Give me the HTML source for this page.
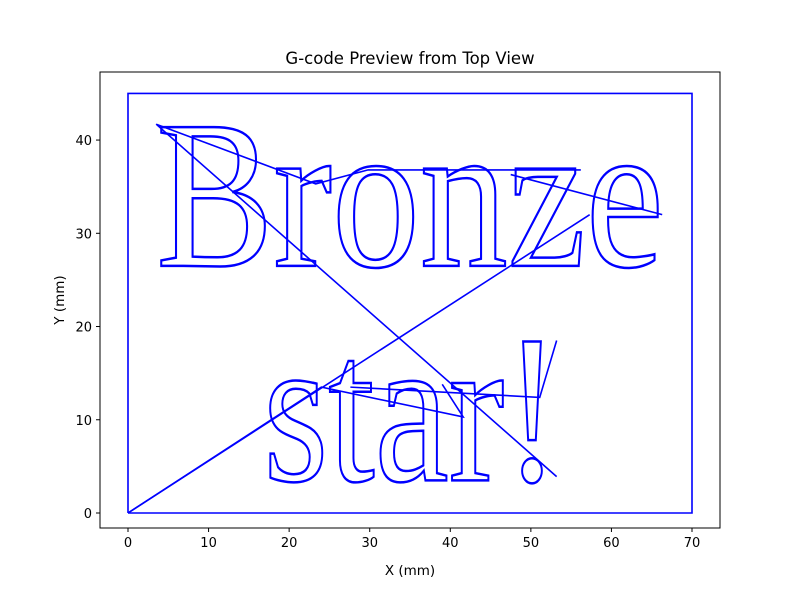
<!DOCTYPE html>
<html><head><meta charset="utf-8"><style>
body{margin:0;background:#fff}
text{font-family:"DejaVu Sans","Liberation Sans",sans-serif}
</style></head><body>
<svg id="chart" width="800" height="600" xmlns="http://www.w3.org/2000/svg">
<rect width="800" height="600" fill="#fff"/>
<text x="410" y="64" font-size="16.5" text-anchor="middle">G-code Preview from Top View</text>
<g id="plot"></g>
<g id="axes"></g>
<text x="410" y="575" font-size="13.5" text-anchor="middle">X (mm)</text>
<text x="64" y="300" font-size="13.5" text-anchor="middle" transform="rotate(-90 64 300)">Y (mm)</text>
</svg>
<script>
const xTicks=[0,10,20,30,40,50,60,70];
const yTicks=[0,10,20,30,40];
const borderX=[0,70,70,0,0];
const borderY=[0,0,45,45,0];
const travelX=[0,57.3];
const travelY=[0,32];
const travel1X=[56.2,29.8,23.3,3.5,53.2];
const travel1Y=[36.8,36.8,35.3,41.7,3.9];
const travel2X=[0,24,41.6,39,41.6];
const travel2Y=[0,13.5,10.3,13.8,10.3];
const travel3X=[27.6,51.1,53.2];
const travel3Y=[13.5,12.4,18.5];
const travel4X=[47.5,66.3];
const travel4Y=[36.3,32];
const X0=100,X1=720,Y0=72,Y1=528,xmin=-3.475,xmax=73.475,ymin=-1.61,ymax=47.3;
const sx=v=>X0+(v-xmin)/(xmax-xmin)*(X1-X0);
const sy=v=>Y1-(v-ymin)/(ymax-ymin)*(Y1-Y0);
const NS="http://www.w3.org/2000/svg";
const plot=document.getElementById('plot'),axes=document.getElementById('axes');
function poly(xs,ys,name){
  const p=document.createElementNS(NS,'polyline');
  p.setAttribute('points',xs.map((x,i)=>sx(x)+','+sy(ys[i])).join(' '));
  p.setAttribute('fill','none');p.setAttribute('stroke','#0000ff');p.setAttribute('stroke-width','1.6');
  
  
  plot.appendChild(p);
}
poly(borderX,borderY,'border-path');
poly(travelX,travelY,'travel-path');
poly(travel1X,travel1Y,'travel-path-1');
poly(travel2X,travel2Y,'travel-path-2');
poly(travel3X,travel3Y,'travel-path-3');
poly(travel4X,travel4Y,'travel-path-4');
function word(str,x0,x1,base,name){
  const t=document.createElementNS(NS,'text');
  t.setAttribute('x',sx(x0));t.setAttribute('y',sy(base));
  t.setAttribute('textLength',sx(x1)-sx(x0));t.setAttribute('lengthAdjust','spacingAndGlyphs');
  t.setAttribute('font-size','212');t.setAttribute('fill','none');t.setAttribute('stroke','#0000ff');t.setAttribute('stroke-width','2.5');
  t.style.fontFamily='"Liberation Serif",serif';
  t.textContent=str;
  
  
  plot.appendChild(t);
}
word('Bronze',3.5,66.5,26.5,'bronze-toolpath');
word('star!',16.8,53.6,3.5,'star-toolpath');
const fr=document.createElementNS(NS,'rect');
fr.setAttribute('x',X0);fr.setAttribute('y',Y0);fr.setAttribute('width',X1-X0);fr.setAttribute('height',Y1-Y0);
fr.setAttribute('fill','none');fr.setAttribute('stroke','#000');fr.setAttribute('stroke-width','1');


axes.appendChild(fr);
xTicks.forEach(v=>{
  const l=document.createElementNS(NS,'line');
  l.setAttribute('x1',sx(v));l.setAttribute('x2',sx(v));l.setAttribute('y1',Y1);l.setAttribute('y2',Y1+4);l.setAttribute('stroke','#000');
  
  
  axes.appendChild(l);
  const t=document.createElementNS(NS,'text');
  t.setAttribute('x',sx(v));t.setAttribute('y',Y1+19);t.setAttribute('font-size','13');t.setAttribute('text-anchor','middle');t.textContent=v;
  
  
  axes.appendChild(t);
});
yTicks.forEach(v=>{
  const l=document.createElementNS(NS,'line');
  l.setAttribute('x1',X0-4);l.setAttribute('x2',X0);l.setAttribute('y1',sy(v));l.setAttribute('y2',sy(v));l.setAttribute('stroke','#000');
  
  
  axes.appendChild(l);
  const t=document.createElementNS(NS,'text');
  t.setAttribute('x',X0-8);t.setAttribute('y',sy(v)+5);t.setAttribute('font-size','13');t.setAttribute('text-anchor','end');t.textContent=v;
  
  
  axes.appendChild(t);
});
</script>
</body></html>
